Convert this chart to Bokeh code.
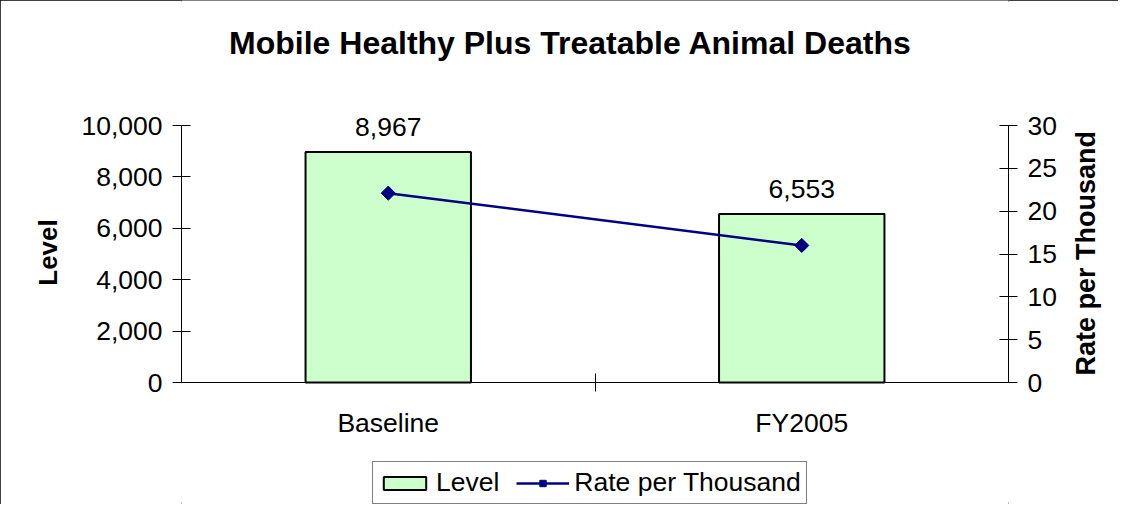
import math
from bokeh.plotting import figure
from bokeh.models import (Range1d, LinearAxis, FixedTicker, NumeralTickFormatter,
                          CustomJSTickFormatter, ColumnDataSource, LabelSet, Label,
                          Legend, LegendItem)
from bokeh.core.properties import value
from bokeh.embed import file_html
from bokeh.resources import INLINE

# ---- data ----
categories = ["Baseline", "FY2005"]
levels = [8967, 6553]
rates = [22.1, 16.0]
level_ticks = [0, 2000, 4000, 6000, 8000, 10000]
rate_ticks = [0, 5, 10, 15, 20, 25, 30]
title_text = "Mobile Healthy Plus Treatable Animal Deaths"
level_name = "Level"
rate_name = "Rate per Thousand"

FONT = "Liberation Sans"
FS = "26.5px"
FSB = 26    # bold "Level" title, px
FSR = 27    # bold rate title, px

xpos = [i + 0.5 for i in range(len(categories))]
dividers = [float(i) for i in range(1, len(categories))]
labels = [f"{v:,}" for v in levels]
src = ColumnDataSource(dict(x=xpos, level=levels, rate=rates, label=labels,
                            cat=categories, base=[0] * len(categories)))

# layout (pixels)
W, H = 1115, 504
FL, FR = 181, 1008
FRAME_H = 504
AXIS_TOP, AXIS_BOT = 125, 382          # where the value axes start/end (px from top)
span_px = AXIS_BOT - AXIS_TOP
below = (FRAME_H - AXIS_BOT) / span_px
above = AXIS_TOP / span_px

lmax, rmax = level_ticks[-1], rate_ticks[-1]
p = figure(frame_width=FR - FL, frame_height=FRAME_H,
           output_backend="svg", toolbar_location=None,
           x_range=Range1d(0, len(categories)),
           y_range=Range1d(-below * lmax, lmax * (1 + above)),
           min_border_left=FL, min_border_right=W - FR, min_border_top=0,
           min_border_bottom=0, x_axis_type=None, y_axis_type=None)
p.extra_y_ranges = {"rate": Range1d(-below * rmax, rmax * (1 + above))}
p.outline_line_color = None
p.background_fill_color = "white"
p.border_fill_color = "white"
p.styles = {"outline": "2px solid black", "outline-offset": "-2px"}


def style_axis(ax, tick=9):
    ax.axis_line_color = "black"
    ax.axis_line_width = 1
    ax.major_tick_line_color = "black"
    ax.major_tick_in = tick
    ax.major_tick_out = tick
    ax.minor_tick_line_color = None
    ax.major_label_text_font = FONT
    ax.major_label_text_font_size = FS
    ax.major_label_text_color = "black"
    ax.axis_label_text_font = FONT
    ax.axis_label_text_font_size = f"{FSB}px"
    ax.axis_label_text_font_style = "bold"
    ax.axis_label_text_color = "black"


ya = LinearAxis(ticker=FixedTicker(ticks=level_ticks, minor_ticks=[]),
                formatter=NumeralTickFormatter(format="0,0"), axis_label=level_name,
                bounds=(level_ticks[0], lmax))
style_axis(ya)
ya.major_label_standoff = 10
ya.axis_label_standoff = 15
p.add_layout(ya, "left")

yr = LinearAxis(y_range_name="rate", ticker=FixedTicker(ticks=rate_ticks, minor_ticks=[]),
                bounds=(rate_ticks[0], rmax))
style_axis(yr)
yr.major_label_standoff = 10
p.add_layout(yr, "right")

# title of the rate axis: one rotated label reading bottom-to-top, centred on the scale
title_len_px = 9.0 * FSR                 # measured length of the bold title
start_val = rmax / 2 - (title_len_px / 2) / span_px * rmax
yr_title = LinearAxis(y_range_name="rate",
                      ticker=FixedTicker(ticks=[start_val], minor_ticks=[]),
                      formatter=CustomJSTickFormatter(args=dict(name=rate_name),
                                                      code="return name;"))
style_axis(yr_title, tick=0)
yr_title.axis_line_color = None
yr_title.major_tick_line_color = None
yr_title.major_label_standoff = 26
yr_title.major_label_orientation = math.pi / 2
yr_title.major_label_text_font_size = f"{FSR}px"
yr_title.major_label_text_font_style = "bold"
p.add_layout(yr_title, "right")

# category axis line at value 0 with the divider tick between the categories
xa = LinearAxis(ticker=FixedTicker(ticks=[], minor_ticks=dividers), fixed_location=0,
                bounds=(0, len(categories)))
style_axis(xa)
xa.major_tick_in = 0
xa.major_tick_out = 0
xa.major_tick_line_color = None
xa.minor_tick_line_color = "black"
xa.minor_tick_in = 9
xa.minor_tick_out = 9
xa.major_label_standoff = 0
p.add_layout(xa, "below")

bars = p.vbar(x="x", top="level", bottom="base", width=0.4, source=src,
              fill_color="#CCFFCC", line_color="black", line_width=2)
line_r = p.line(x="x", y="rate", y_range_name="rate", source=src,
                line_color="#000080", line_width=2.5)
sc_r = p.scatter(x="x", y="rate", y_range_name="rate", source=src, marker="square",
                 angle=math.pi / 4, size=10, fill_color="#000080", line_color="#000080")

# value labels above the bars
p.add_layout(LabelSet(x="x", y="level", text="label", source=src, y_offset=25,
                      text_align="center", text_baseline="middle",
                      text_font=value(FONT), text_font_size=value(FS), text_color="black"))
# category labels under the category axis
p.add_layout(LabelSet(x="x", y="base", text="cat", source=src, y_offset=-25,
                      text_align="center", text_baseline="top",
                      text_font=value(FONT), text_font_size=value(FS), text_color="black"))

p.add_layout(Label(x=389, y=FRAME_H - 42, x_units="screen", y_units="screen", text=title_text,
                   text_align="center", text_baseline="middle", text_font=FONT,
                   text_font_size="32px", text_font_style="bold", text_color="black"))

legend = Legend(items=[LegendItem(label=level_name, renderers=[bars]),
                       LegendItem(label=rate_name, renderers=[line_r, sc_r])],
                orientation="horizontal", location=(191, 0),
                border_line_color="black", border_line_width=1,
                background_fill_color="white", background_fill_alpha=1,
                label_text_font=FONT, label_text_font_size=FS, label_text_color="black",
                glyph_width=53, glyph_height=16, padding=5, spacing=17,
                label_standoff=5, margin=0)
p.add_layout(legend)

open("out.html", "w").write(file_html(p, INLINE))
